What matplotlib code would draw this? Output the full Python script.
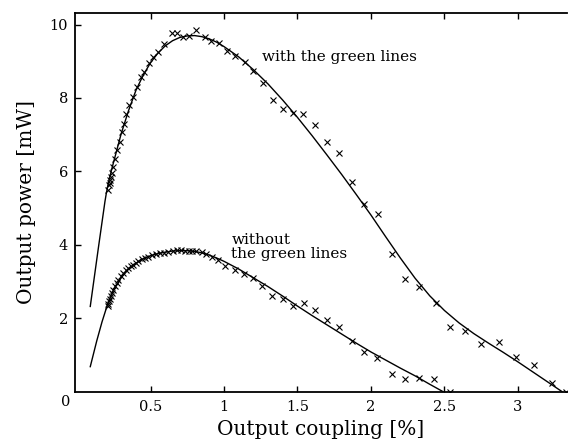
import matplotlib
matplotlib.use("Agg")
import matplotlib.pyplot as plt

# Measured output power, with the green lines
with_x = [0.213, 0.218, 0.222, 0.224, 0.228, 0.236, 0.247, 0.259, 0.270, 0.293,
          0.306, 0.320, 0.333, 0.356, 0.383, 0.406, 0.433, 0.458, 0.490, 0.519,
          0.553, 0.592, 0.644, 0.678, 0.719, 0.763, 0.810, 0.871, 0.910, 0.968,
          1.018, 1.075, 1.143, 1.200, 1.263, 1.335, 1.399, 1.470, 1.540, 1.620,
          1.700, 1.780, 1.870, 1.950, 2.050, 2.140, 2.230, 2.330, 2.440, 2.540,
          2.640, 2.750, 2.870, 2.990, 3.110, 3.230, 3.330]
with_y = [5.50, 5.62, 5.68, 5.77, 5.85, 5.95, 6.13, 6.33, 6.57, 6.79,
          7.06, 7.29, 7.56, 7.81, 8.04, 8.29, 8.57, 8.72, 8.95, 9.11,
          9.25, 9.47, 9.77, 9.77, 9.66, 9.69, 9.84, 9.66, 9.54, 9.49,
          9.29, 9.15, 8.99, 8.74, 8.40, 7.95, 7.69, 7.59, 7.56, 7.27,
          6.81, 6.51, 5.72, 5.12, 4.83, 3.75, 3.07, 2.86, 2.41, 1.77,
          1.66, 1.30, 1.34, 0.95, 0.73, 0.23, 0.00]

# Measured output power, without the green lines
without_x = [0.210, 0.214, 0.218, 0.222, 0.228, 0.236, 0.246, 0.259, 0.270, 0.281,
             0.298, 0.315, 0.332, 0.349, 0.366, 0.383, 0.400, 0.417, 0.440, 0.463,
             0.485, 0.508, 0.537, 0.565, 0.593, 0.621, 0.650, 0.678, 0.706, 0.735,
             0.760, 0.780, 0.810, 0.848, 0.880, 0.916, 0.961, 1.007, 1.075, 1.136,
             1.195, 1.256, 1.330, 1.400, 1.467, 1.544, 1.620, 1.700, 1.780, 1.870,
             1.950, 2.040, 2.140, 2.230, 2.330, 2.430, 2.540]
without_y = [2.33, 2.40, 2.46, 2.52, 2.60, 2.68, 2.78, 2.88, 2.97, 3.05,
             3.15, 3.23, 3.30, 3.37, 3.42, 3.46, 3.51, 3.55, 3.60, 3.64,
             3.68, 3.72, 3.75, 3.77, 3.79, 3.81, 3.84, 3.86, 3.85, 3.84,
             3.84, 3.84, 3.83, 3.80, 3.74, 3.68, 3.59, 3.41, 3.30, 3.21,
             3.09, 2.88, 2.61, 2.52, 2.34, 2.41, 2.21, 1.95, 1.77, 1.39,
             1.09, 0.91, 0.48, 0.34, 0.36, 0.34, 0.00]

# Theoretical curves
fit_with_x = [0.09, 0.145, 0.19, 0.20, 0.21, 0.22, 0.24, 0.26, 0.30, 0.35,
              0.40, 0.45, 0.50, 0.55, 0.60, 0.65, 0.70, 0.75, 0.80, 0.85,
              0.90, 0.95, 1.00, 1.10, 1.20, 1.30, 1.40, 1.50, 1.60, 1.70,
              1.80, 1.90, 2.00, 2.10, 2.20, 2.30, 2.40, 2.50, 2.60, 2.70,
              2.80, 2.90, 3.00, 3.10, 3.20, 3.30]
fit_with_y = [2.32, 3.91, 5.18, 5.42, 5.62, 5.80, 6.12, 6.42, 7.02, 7.65,
              8.20, 8.62, 8.96, 9.22, 9.42, 9.56, 9.65, 9.69, 9.70, 9.67,
              9.61, 9.52, 9.40, 9.12, 8.77, 8.38, 7.94, 7.47, 6.97, 6.45,
              5.92, 5.37, 4.81, 4.22, 3.64, 3.09, 2.61, 2.21, 1.87, 1.58,
              1.32, 1.07, 0.81, 0.54, 0.27, 0.00]

fit_without_x = [0.09, 0.134, 0.17, 0.20, 0.225, 0.25, 0.30, 0.35, 0.40, 0.45,
                 0.50, 0.55, 0.60, 0.65, 0.70, 0.75, 0.80, 0.85, 0.90, 0.95,
                 1.00, 1.10, 1.20, 1.30, 1.40, 1.50, 1.60, 1.70, 1.80, 1.90,
                 2.00, 2.10, 2.20, 2.30, 2.40, 2.49]
fit_without_y = [0.68, 1.38, 1.90, 2.28, 2.56, 2.78, 3.10, 3.33, 3.50, 3.62,
                 3.70, 3.76, 3.80, 3.83, 3.84, 3.84, 3.82, 3.78, 3.72, 3.64,
                 3.55, 3.34, 3.10, 2.86, 2.60, 2.33, 2.07, 1.82, 1.57, 1.32,
                 1.08, 0.86, 0.64, 0.43, 0.20, 0.00]

x_ticks = [0.5, 1, 1.5, 2, 2.5, 3]
x_tick_labels = ["0.5", "1", "1.5", "2", "2.5", "3"]
y_ticks = [2, 4, 6, 8, 10]
y_tick_labels = ["2", "4", "6", "8", "10"]

plt.rcParams["font.family"] = ["DejaVu Serif"]

fig = plt.figure(figsize=(5.68, 4.42), dpi=100)
ax = fig.add_axes([0.132, 0.114, 0.866, 0.857])

ax.plot(fit_with_x, fit_with_y, color="black", lw=1.0)
ax.plot(fit_without_x, fit_without_y, color="black", lw=1.0)
ax.plot(with_x, with_y, ls="none", marker="x", ms=4, mew=0.8, color="black")
ax.plot(without_x, without_y, ls="none", marker="x", ms=4, mew=0.8, color="black")

ax.set_xlim(-0.014, 3.333)
ax.set_ylim(0, 10.32)

ax.set_xticks(x_ticks)
ax.set_xticklabels(x_tick_labels)
ax.set_yticks(y_ticks)
ax.set_yticklabels(y_tick_labels)
ax.tick_params(axis="both", direction="in", length=4, width=1, labelsize=10.5,
               top=True, right=False)
ax.tick_params(axis="x", pad=6)
ax.tick_params(axis="y", pad=5)

for side in ("left", "bottom", "top"):
    ax.spines[side].set_linewidth(1.3)
ax.spines["right"].set_visible(False)

# shared origin label
ax.text(-0.08, -0.27, "0", ha="center", va="center", fontsize=10.5,
        transform=ax.transData, clip_on=False)

ax.text(1.26, 9.12, "with the green lines", ha="left", va="center", fontsize=11)
ax.text(1.05, 3.94, "without\nthe green lines", ha="left", va="center",
        fontsize=11, linespacing=1.0)

ax.set_xlabel("Output coupling [%]", fontsize=14.5, labelpad=4)
ax.set_ylabel("Output power [mW]", fontsize=14.5, labelpad=10)

fig.savefig("out.png", dpi=100)
